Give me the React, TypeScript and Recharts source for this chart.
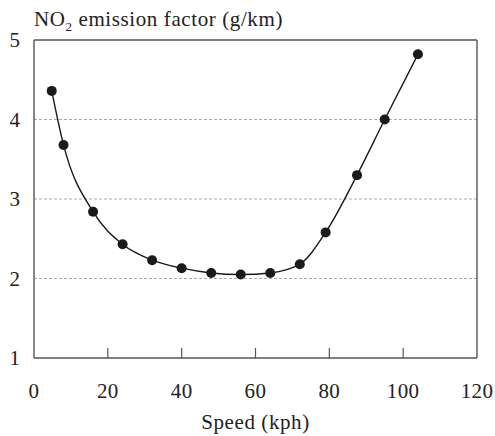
import { ComposedChart, Line, XAxis, YAxis, CartesianGrid, ReferenceLine } from "recharts";

// speed (kph) and NO2 emission factor (g/km)
const speeds = [4.8, 8, 16, 24, 32, 40, 48, 56, 64, 72, 79, 87.5, 95, 104];
const factors = [4.36, 3.68, 2.84, 2.43, 2.23, 2.13, 2.07, 2.05, 2.07, 2.18, 2.58, 3.3, 4.0, 4.82];
const xTicks = [0, 20, 40, 60, 80, 100, 120];
const yTicks = [1, 2, 3, 4, 5];
const innerTicks = [20, 40, 60, 80, 100];

const rows = speeds.map((s, i) => ({ speed: s, nox: factors[i] }));

const FONT = "Liberation Serif";
const FRAME = "#555";

function XTick({ x, y, payload }: any) {
  return (
    <text x={x} y={y} dy={14} textAnchor="middle" fill="#222" fontSize={21} fontFamily={FONT} letterSpacing={0.4}>
      {payload.value}
    </text>
  );
}

function YTick({ x, y, payload }: any) {
  return (
    <text x={x} y={y} dy={7} textAnchor="end" fill="#222" fontSize={21} fontFamily={FONT}>
      {payload.value}
    </text>
  );
}

export default function App() {
  return (
    <div style={{ position: "absolute", left: 0, top: 0, width: 495, height: 436, background: "#fff", fontFamily: FONT }}>
      <div style={{ position: "absolute", left: 34, top: 9, fontSize: 21, lineHeight: "21px", color: "#222", whiteSpace: "nowrap", letterSpacing: 0.6 }}>
        NO<span style={{ fontSize: 13, position: "relative", top: 5 }}>2</span> emission factor (g/km)
      </div>
      <ComposedChart width={495} height={436} data={rows} margin={{ top: 40, right: 18, bottom: 0, left: 0 }}>
        <CartesianGrid horizontal vertical={false} stroke="#aaa" strokeDasharray="3 2" horizontalValues={[2, 3, 4]} />
        <XAxis
          type="number" dataKey="speed" domain={[0, 120]} ticks={xTicks} height={78}
          axisLine={{ stroke: FRAME, strokeWidth: 1.4 }} tickLine={false} tickSize={0} tickMargin={26}
          tick={<XTick />}
          label={{ value: "Speed (kph)", position: "insideBottom", offset: 7, fill: "#222", fontSize: 21, fontFamily: FONT, letterSpacing: 0.6 }}
        />
        <YAxis
          type="number" domain={[1, 5]} ticks={yTicks} width={34}
          axisLine={{ stroke: FRAME, strokeWidth: 1.4 }} tickLine={false} tickSize={0} tickMargin={14}
          tick={<YTick />}
        />
        <ReferenceLine y={5} stroke={FRAME} strokeWidth={1.4} />
        <ReferenceLine x={120} stroke={FRAME} strokeWidth={1.4} />
        {innerTicks.map((t) => (
          <ReferenceLine key={t} segment={[{ x: t, y: 1 }, { x: t, y: 1.125 }]} stroke={FRAME} strokeWidth={1.2} />
        ))}
        <Line
          type="monotone" dataKey="nox" stroke="#1a1a1a" strokeWidth={1.4} isAnimationActive={false}
          dot={{ r: 5, fill: "#1a1a1a", stroke: "none" }}
        />
      </ComposedChart>
    </div>
  );
}
